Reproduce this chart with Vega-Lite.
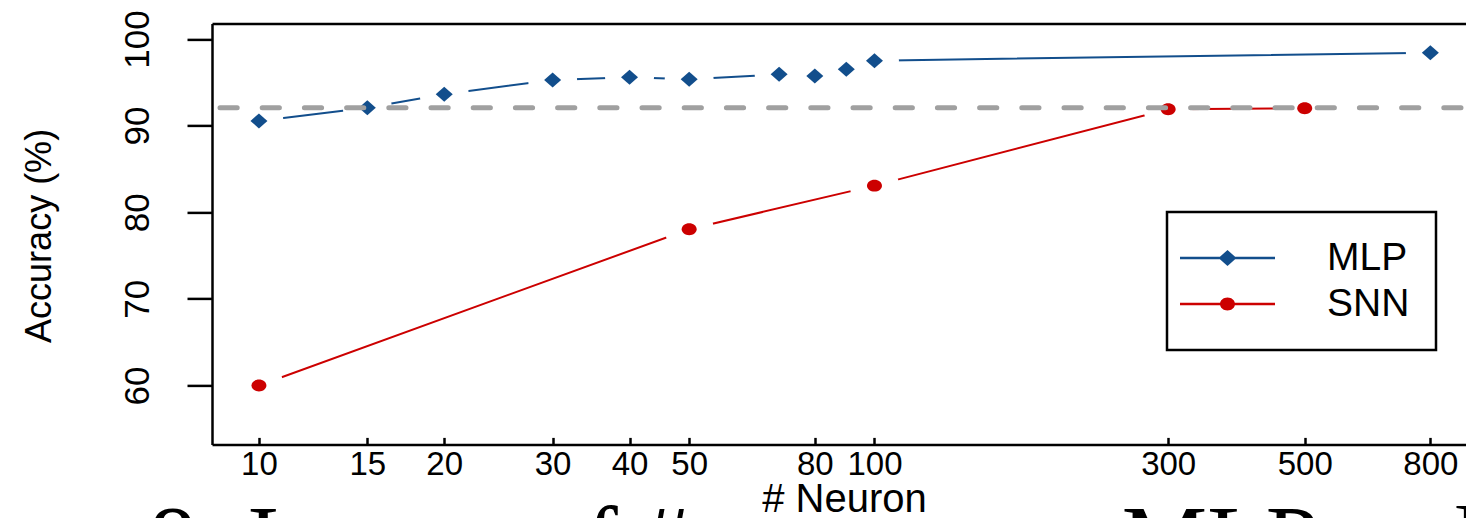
{
  "$schema": "https://vega.github.io/schema/vega-lite/v6.json",
  "width": 1254,
  "height": 421,
  "autosize": {"type": "none"},
  "padding": {"left": 212, "top": 23.4, "right": 0, "bottom": 73.6},
  "background": "white",
  "title": {
    "text": "Figure 8: Impact of #\u00a0\u00a0\u00a0\u00a0\u00a0\u00a0\u00a0\u00a0\u00a0\u00a0\u00a0\u00a0\u00a0\u00a0\u00a0\u00a0\u00a0\u00a0MLP and SNN",
    "orient": "bottom",
    "anchor": "start",
    "frame": "group",
    "dx": -338,
    "offset": 53,
    "font": "Liberation Serif",
    "fontSize": 96,
    "fontWeight": "normal",
    "color": "black",
    "baseline": "alphabetic"
  },
  "datasets": {
    "acc": [
      {"series": "MLP", "n": 10, "acc": 90.54},
      {"series": "MLP", "n": 15, "acc": 92.07},
      {"series": "MLP", "n": 20, "acc": 93.62},
      {"series": "MLP", "n": 30, "acc": 95.27},
      {"series": "MLP", "n": 40, "acc": 95.58},
      {"series": "MLP", "n": 50, "acc": 95.36},
      {"series": "MLP", "n": 70, "acc": 95.92},
      {"series": "MLP", "n": 80, "acc": 95.73},
      {"series": "MLP", "n": 90, "acc": 96.5},
      {"series": "MLP", "n": 100, "acc": 97.5},
      {"series": "MLP", "n": 800, "acc": 98.42},
      {"series": "SNN", "n": 10, "acc": 60.0},
      {"series": "SNN", "n": 50, "acc": 78.04},
      {"series": "SNN", "n": 100, "acc": 83.07},
      {"series": "SNN", "n": 300, "acc": 91.89},
      {"series": "SNN", "n": 500, "acc": 92.0}
    ],
    "reference": [
      {"acc": 92.07}
    ]
  },
  "data": {"name": "acc"},
  "encoding": {
    "y": {
      "field": "acc", "type": "quantitative",
      "scale": {"domain": [53.2, 101.8], "nice": false, "zero": false},
      "axis": {
        "orient": "left",
        "values": [60, 70, 80, 90, 100],
        "labelAngle": -90,
        "labelAlign": "center",
        "labelBaseline": "alphabetic",
        "labelPadding": 39,
        "tickSize": 25,
        "labelFontSize": 35,
        "title": "Accuracy (%)",
        "titleFontSize": 36,
        "titleAngle": 270,
        "titleX": -162,
        "titleY": 212,
        "titleAlign": "center",
        "titleBaseline": "alphabetic"
      }
    }
  },
  "layer": [
    {
      "mark": {"type": "line", "strokeWidth": 2},
      "encoding": {
        "x": {
          "field": "n", "type": "quantitative",
          "scale": {"type": "log", "domain": [8.39, 914.1], "nice": false},
          "axis": {
            "orient": "bottom",
            "values": [10, 15, 20, 30, 40, 50, 80, 100, 300, 500, 800],
            "format": "d",
            "labelFontSize": 33,
            "labelBaseline": "alphabetic",
            "labelAlign": "center",
            "labelPadding": 37,
            "tickSize": -7,
            "labelOverlap": false,
            "labelFlush": false,
            "title": "# Neuron",
            "titleFontSize": 40,
            "titleX": 632,
            "titleY": 67,
            "titleAlign": "center",
            "titleBaseline": "alphabetic"
          }
        },
        "color": {
          "field": "series", "type": "nominal",
          "scale": {"domain": ["MLP", "SNN"], "range": ["#124E8C", "#CC0000"]},
          "legend": null
        }
      }
    },
    {
      "mark": {"type": "point", "filled": true, "shape": "circle", "size": 2400, "color": "white", "opacity": 1},
      "encoding": {
        "x": {"field": "n", "type": "quantitative", "axis": null}
      }
    },
    {
      "mark": {"type": "point", "filled": true, "size": 289, "opacity": 1},
      "encoding": {
        "x": {"field": "n", "type": "quantitative", "axis": null},
        "color": {
          "field": "series", "type": "nominal",
          "scale": {"domain": ["MLP", "SNN"], "range": ["#124E8C", "#CC0000"]},
          "legend": null
        },
        "shape": {
          "field": "series", "type": "nominal",
          "scale": {"domain": ["MLP", "SNN"], "range": ["M-1,0L0,-0.88L1,0L0,0.88Z", "M0.88,0A0.88,0.7 0 1,1 -0.88,0A0.88,0.7 0 1,1 0.88,0Z"]},
          "legend": null
        }
      }
    },
    {
      "mark": {"type": "point", "filled": true, "size": 1600, "opacity": 0},
      "encoding": {
        "x": {
          "field": "n", "type": "quantitative",
          "axis": {"orient": "top", "ticks": false, "labels": false, "title": null, "domain": true}
        },
        "color": {
          "field": "series", "type": "nominal",
          "scale": {"domain": ["MLP", "SNN"], "range": ["#124E8C", "#CC0000"]},
          "legend": {
            "orient": "none", "legendX": 955, "legendY": 188.6, "title": null,
            "padding": 26, "strokeColor": "black", "fillColor": "white",
            "symbolSize": 1600, "symbolStrokeWidth": 0, "symbolOpacity": 1,
            "symbolOffset": 14.5, "labelOffset": 79.5, "rowPadding": 6,
            "labelFontSize": 39, "labelColor": "black", "labelLimit": 400
          }
        },
        "shape": {
          "field": "series", "type": "nominal",
          "scale": {"domain": ["MLP", "SNN"], "range": [
            "M-2.375,-0.065H2.375V0.065H-2.375ZM-0.45,0L0,-0.4L0.45,0L0,0.4Z",
            "M-2.375,-0.065H2.375V0.065H-2.375ZM0.375,0A0.375,0.325 0 1,1 -0.375,0A0.375,0.325 0 1,1 0.375,0Z"
          ]},
          "legend": {
            "orient": "none", "legendX": 955, "legendY": 188.6, "title": null,
            "padding": 26, "strokeColor": "black", "fillColor": "white",
            "symbolSize": 1600, "symbolStrokeWidth": 0, "symbolOpacity": 1,
            "symbolOffset": 14.5, "labelOffset": 79.5, "rowPadding": 6,
            "labelFontSize": 39, "labelColor": "black", "labelLimit": 400
          }
        }
      }
    },
    {
      "data": {"name": "reference"},
      "mark": {"type": "rule", "color": "#A0A0A0", "strokeWidth": 5, "strokeDash": [17.2, 25], "strokeDashOffset": 37.2, "strokeCap": "round"},
      "encoding": {}
    }
  ],
  "resolve": {
    "scale": {"shape": "independent", "color": "independent"},
    "axis": {"x": "independent", "y": "shared"}
  },
  "config": {
    "view": {"stroke": null},
    "font": "Liberation Sans",
    "axis": {
      "grid": false,
      "domainColor": "black", "tickColor": "black",
      "labelColor": "black", "titleColor": "black",
      "domainWidth": 2.5, "tickWidth": 2.5,
      "labelFont": "Liberation Sans", "titleFont": "Liberation Sans",
      "titleFontWeight": "normal"
    },
    "axisRight": {"domain": false, "ticks": false, "labels": false},
    "legend": {"strokeColor": "black", "strokeWidth": 2.5, "labelFont": "Liberation Sans"}
  }
}
